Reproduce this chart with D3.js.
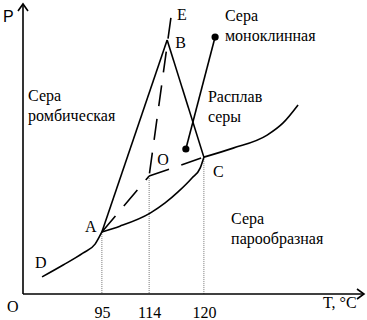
<!DOCTYPE html>
<html>
<head>
<meta charset="utf-8">
<script src="https://cdn.jsdelivr.net/npm/d3@7"></script>
<style>
  html, body { margin: 0; padding: 0; background: #fff; }
  svg { display: block; }
</style>
</head>
<body>
<div id="chart"></div>
<script>
// schematic diagram units (0..100 on both axes)
const pointNames = ["A", "B", "C", "O", "D", "E"];
const pointT = [23.2, 42.4, 53.2, 37.1, 5.6, 43.5];
const pointP = [21.4, 87.6, 47.2, 40.7, 5.9, 95.2];

// curves (sublimation / melting / boiling)
const curveDA = [[5.6, 5.9], [11.8, 10.0], [17.6, 14.1], [21.2, 17.2], [23.2, 21.4]];
const curveAC = [[23.2, 21.4], [28.5, 23.4], [37.4, 27.9], [41.8, 31.4], [45.6, 35.2], [49.7, 40.0], [52.1, 43.4], [53.2, 47.2]];
const curveCF = [[53.2, 47.2], [61.8, 50.3], [71.8, 54.8], [76.5, 59.0], [80.9, 65.2]];

// straight solid and dashed segments between named points
const solidSegments = [["A", "B"], ["B", "C"]];
const dashedSegments = [["E", "O"], ["A", "O"], ["O", "C"]];

// pointer from "Сера моноклинная" into the B-O-C triangle
const pointerT = [56.5, 47.9];
const pointerP = [88.6, 50.0];

// temperature ticks under A, O, C
const tickPoints = ["A", "O", "C"];
const tickLabels = ["95", "114", "120"];

// region labels, one entry per line
const regionText = ["Сера", "ромбическая", "Сера", "моноклинная", "Расплав", "серы", "Сера", "парообразная"];
const regionT = [1.5, 1.5, 59.4, 59.4, 54.4, 54.4, 61.2, 61.2];
const regionP = [66.6, 59.7, 94.1, 87.2, 66.2, 59.3, 24.2, 17.3];

const width = 367, height = 320;
const serif = "'Liberation Serif', 'Times New Roman', serif";
const x = d3.scaleLinear().domain([0, 100]).range([23, 363]);
const y = d3.scaleLinear().domain([0, 100]).range([294, 4]);

const pt = {};
pointNames.forEach((n, i) => (pt[n] = [pointT[i], pointP[i]]));

const svg = d3.select("#chart").append("svg")
  .attr("width", width)
  .attr("height", height);

const line = d3.line().x((d) => x(d[0])).y((d) => y(d[1]));
const curve = d3.line().x((d) => x(d[0])).y((d) => y(d[1])).curve(d3.curveMonotoneX);

// vertical dotted drop lines
svg.append("g")
  .selectAll("line")
  .data(tickPoints)
  .join("line")
  .attr("x1", (d) => x(pt[d][0]))
  .attr("x2", (d) => x(pt[d][0]))
  .attr("y1", (d) => y(pt[d][1]))
  .attr("y2", y(0))
  .attr("stroke", "#777")
  .attr("stroke-width", 1)
  .attr("stroke-dasharray", "1,1");

// axes with arrow heads
const axes = svg.append("g").attr("stroke", "#000").attr("stroke-width", 1.6).attr("fill", "none");
axes.append("path").attr("d", line([[0, 0], [100, 0]]));
axes.append("path").attr("d", line([[0, 0], [0, 100]]));
axes.append("path").attr("d", `M${x(100) - 6},${y(0) - 5}L${x(100) + 1},${y(0)}L${x(100) - 6},${y(0) + 5}`);
axes.append("path").attr("d", `M${x(0) - 5},${y(100) + 7}L${x(0)},${y(100)}L${x(0) + 5},${y(100) + 7}`);

// tick labels via axis
const xAxis = d3.axisBottom(x)
  .tickValues(tickPoints.map((d) => pt[d][0]))
  .tickFormat((d, i) => tickLabels[i])
  .tickSize(0)
  .tickPadding(13);
const axG = svg.append("g").attr("transform", `translate(0,${y(0)})`).call(xAxis);
axG.select(".domain").remove();
axG.selectAll("text")
  .attr("fill", "#000")
  .style("font-family", serif)
  .style("font-size", "16px");

// curves
const g = svg.append("g").attr("fill", "none").attr("stroke", "#000").attr("stroke-width", 1.6);
[curveDA, curveAC, curveCF].forEach((c) => g.append("path").attr("d", curve(c)));

solidSegments.forEach(([a, b]) => g.append("path").attr("d", line([pt[a], pt[b]])));

dashedSegments.forEach(([a, b]) =>
  g.append("path").attr("d", line([pt[a], pt[b]])).attr("stroke-dasharray", "21,13"));

// pointer line with dots
g.append("path").attr("d", line(pointerT.map((t, i) => [t, pointerP[i]])));
svg.append("g")
  .selectAll("circle")
  .data(pointerT)
  .join("circle")
  .attr("cx", (d) => x(d))
  .attr("cy", (d, i) => y(pointerP[i]))
  .attr("r", 3.6)
  .attr("fill", "#000");

// point letters
const letterOffsets = { A: [-17, 0], B: [8, 8], C: [9, 20], O: [8, -11], D: [-7, -9], E: [6, 2] };
svg.append("g")
  .selectAll("text")
  .data(pointNames)
  .join("text")
  .attr("x", (d) => x(pt[d][0]) + letterOffsets[d][0])
  .attr("y", (d) => y(pt[d][1]) + letterOffsets[d][1])
  .style("font-family", serif)
  .style("font-size", "16px")
  .text((d) => d);

// region labels
svg.append("g")
  .selectAll("text")
  .data(regionText)
  .join("text")
  .attr("x", (d, i) => x(regionT[i]))
  .attr("y", (d, i) => y(regionP[i]))
  .style("font-family", serif)
  .style("font-size", "16px")
  .text((d) => d);

// axis names
svg.append("text").attr("x", 3).attr("y", 22)
  .style("font-family", "'Liberation Sans', Arial, sans-serif").style("font-size", "16px").text("P");
svg.append("text").attr("x", 7).attr("y", 312)
  .style("font-family", serif).style("font-size", "16px").text("O");
svg.append("text").attr("x", 323).attr("y", 308)
  .style("font-family", serif).style("font-size", "16px").text("T, °C");
</script>
</body>
</html>
